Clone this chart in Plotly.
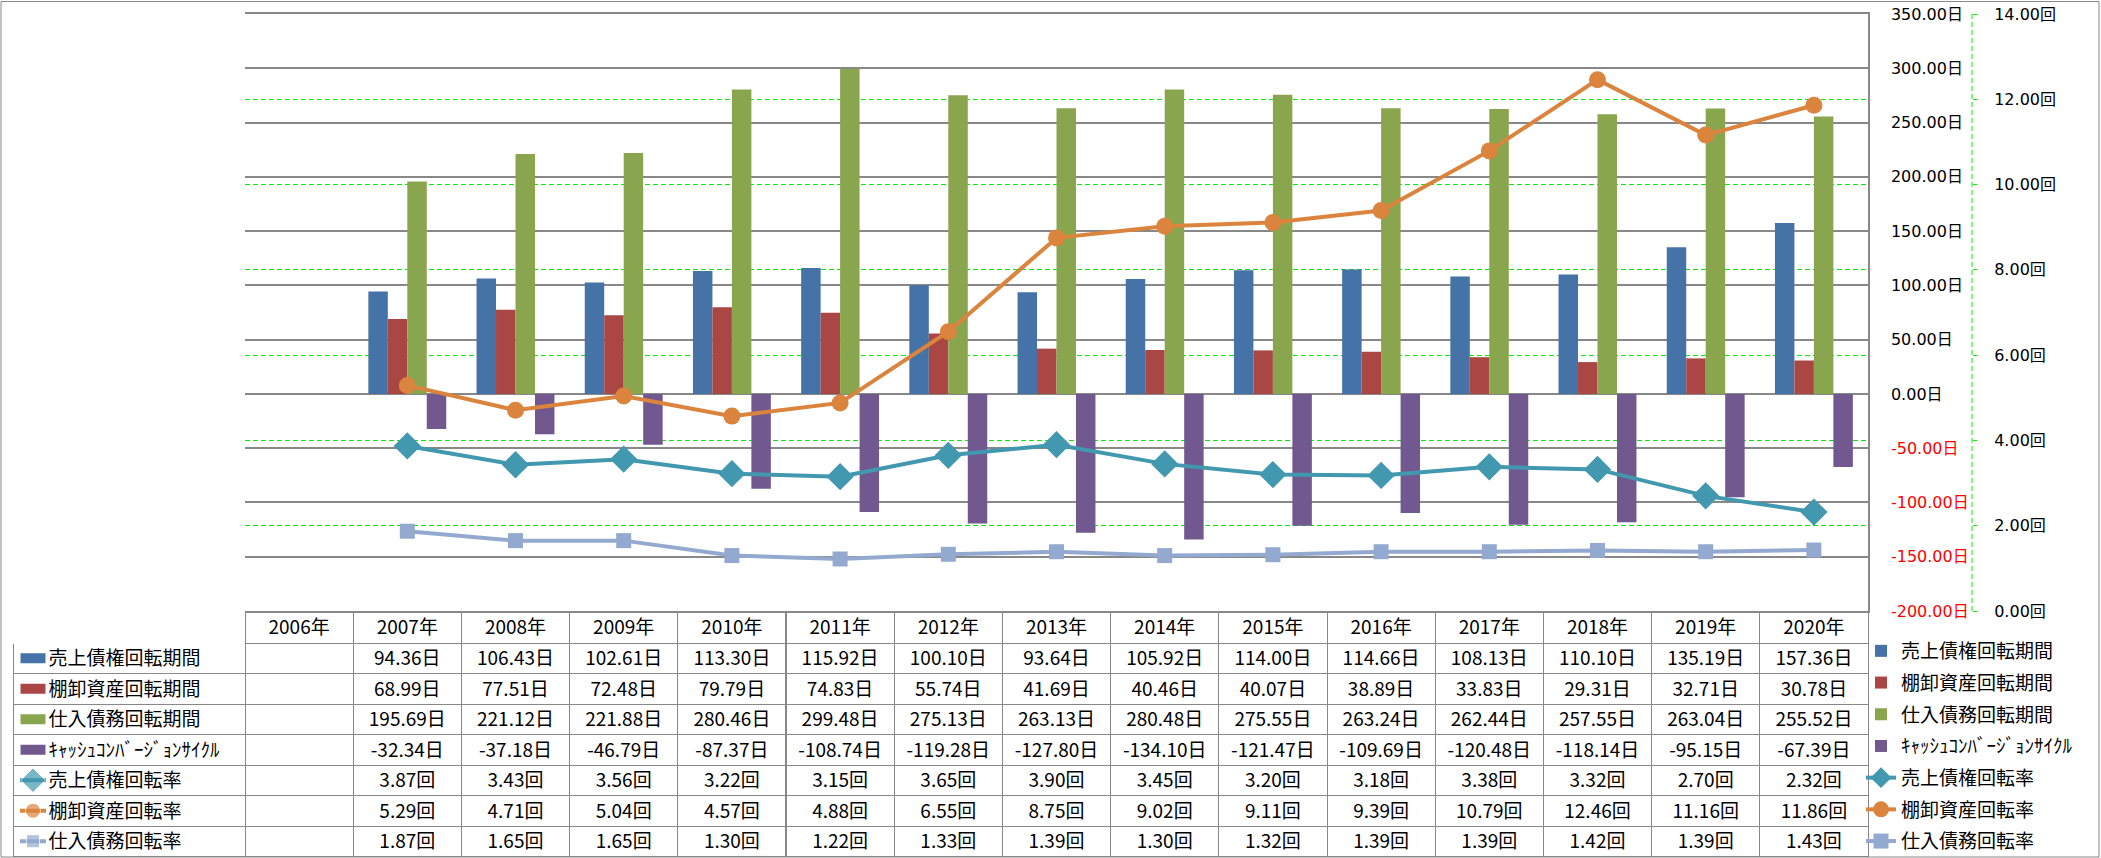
import plotly.graph_objects as go

# categories
years = ["2006年", "2007年", "2008年", "2009年", "2010年", "2011年", "2012年", "2013年",
         "2014年", "2015年", "2016年", "2017年", "2018年", "2019年", "2020年"]

# days (左軸)
ar_days = [None, 94.36, 106.43, 102.61, 113.30, 115.92, 100.10, 93.64, 105.92, 114.00, 114.66, 108.13, 110.10, 135.19, 157.36]
inv_days = [None, 68.99, 77.51, 72.48, 79.79, 74.83, 55.74, 41.69, 40.46, 40.07, 38.89, 33.83, 29.31, 32.71, 30.78]
ap_days = [None, 195.69, 221.12, 221.88, 280.46, 299.48, 275.13, 263.13, 280.48, 275.55, 263.24, 262.44, 257.55, 263.04, 255.52]
ccc_days = [None, -32.34, -37.18, -46.79, -87.37, -108.74, -119.28, -127.80, -134.10, -121.47, -109.69, -120.48, -118.14, -95.15, -67.39]

# turnover (右軸)
ar_turn = [None, 3.87, 3.43, 3.56, 3.22, 3.15, 3.65, 3.90, 3.45, 3.20, 3.18, 3.38, 3.32, 2.70, 2.32]
inv_turn = [None, 5.29, 4.71, 5.04, 4.57, 4.88, 6.55, 8.75, 9.02, 9.11, 9.39, 10.79, 12.46, 11.16, 11.86]
ap_turn = [None, 1.87, 1.65, 1.65, 1.30, 1.22, 1.33, 1.39, 1.30, 1.32, 1.39, 1.39, 1.42, 1.39, 1.43]

# axis ticks
days_ticks = [350, 300, 250, 200, 150, 100, 50, 0, -50, -100, -150, -200]
turn_ticks = [14, 12, 10, 8, 6, 4, 2, 0]

bar_series = [
    ("売上債権回転期間", ar_days, "#4572A7"),
    ("棚卸資産回転期間", inv_days, "#AA4643"),
    ("仕入債務回転期間", ap_days, "#89A54E"),
    ("ｷｬｯｼｭｺﾝﾊﾞｰｼﾞｮﾝｻｲｸﾙ", ccc_days, "#71588F"),
]
line_series = [
    ("売上債権回転率", ar_turn, "#4198AF", "diamond", 21),
    ("棚卸資産回転率", inv_turn, "#DB843D", "circle", 17),
    ("仕入債務回転率", ap_turn, "#93A9CF", "square", 15),
]

JP = "Noto Sans CJK JP"
AX = "DejaVu Sans, Noto Sans CJK JP"

W, H = 2101, 858
ML, MR, MT, MB = 13, 13, 14, 1
PW, PH = W - ML - MR, H - MT - MB


def px_x(x):
    return (x - ML) / PW


def px_y(y):
    return (H - MB - y) / PH


plot_left, plot_right = 245, 1868
plot_top, plot_bottom = 14, 611
table_top = 612
head_h, row_h = 31, 30.5

fig = go.Figure()

for i, (name, vals, color) in enumerate(bar_series):
    fig.add_trace(go.Bar(
        x=years, y=vals, name=name, marker_color=color, marker_line_width=0,
        legendgroup=f"g{i}", legendrank=i,
    ))

for j, (name, vals, color, symbol, size) in enumerate(line_series):
    fig.add_trace(go.Scatter(
        x=years, y=vals, name=name, yaxis="y2", mode="lines+markers",
        line=dict(color=color, width=4),
        marker=dict(symbol=symbol, size=size, color=color),
        legendgroup=f"h{j}", legendrank=10 + j,
    ))

# series keys drawn in the first column of the data table
for r, (name, _, color) in enumerate(bar_series):
    fig.add_trace(go.Scatter(
        x=[0.02, 0.98], y=[r, r], xaxis="x3", yaxis="y3", mode="lines",
        line=dict(color=color, width=10), showlegend=False, hoverinfo="skip",
    ))
for j, (name, _, color, symbol, size) in enumerate(line_series):
    r = len(bar_series) + j
    fig.add_trace(go.Scatter(
        x=[0, 0.5, 1], y=[r, r, r], xaxis="x3", yaxis="y3", mode="lines+markers",
        line=dict(color=color, width=4),
        marker=dict(symbol=symbol, size=[0, size - 2, 0], color=color),
        showlegend=False, hoverinfo="skip",
    ))

# data table below the plot
pad = "\u3000\u00a0\u00a0"
label_col = [pad + n for n, _, _ in bar_series] + [pad + n for n, _, _, _, _ in line_series]

columns = [label_col]
for k in range(len(years)):
    col = []
    for _, vals, _ in bar_series:
        col.append("" if vals[k] is None else f"{vals[k]:.2f}日")
    for _, vals, _, _, _ in line_series:
        col.append("" if vals[k] is None else f"{vals[k]:.2f}回")
    columns.append(col)

n_rows = len(label_col)
fig.add_trace(go.Table(
    domain=dict(x=[0, px_x(plot_right)], y=[0, px_y(table_top)]),
    columnwidth=[plot_left - ML] + [(plot_right - plot_left) / len(years)] * len(years),
    header=dict(
        values=[""] + years, height=head_h,
        line=dict(color=["white"] + ["#888888"] * len(years), width=1),
        fill_color="white", align="center",
        font=dict(family=JP, size=19, color="black"),
    ),
    cells=dict(
        values=columns, height=row_h,
        line=dict(color="#888888", width=1),
        fill_color=["rgba(0,0,0,0)"] + ["white"] * len(years),
        align=["left"] + ["center"] * len(years),
        font=dict(family=JP, size=19, color="black"),
    ),
))

days_text = [f'<span style="color:red">{v:.2f}日</span>' if v < 0 else f"{v:.2f}日" for v in days_ticks]
turn_text = [f"{v:.2f}回" for v in turn_ticks]

rows_top = table_top + head_h
fig.update_layout(
    width=W, height=H,
    margin=dict(l=ML, r=MR, t=MT, b=MB, autoexpand=False),
    paper_bgcolor="white", plot_bgcolor="white",
    barmode="group", bargap=0.28, bargroupgap=0,
    xaxis=dict(domain=[px_x(plot_left), px_x(plot_right)], range=[-0.5, len(years) - 0.5],
               showticklabels=False, showgrid=False, zeroline=False, ticks="",
               showline=True, mirror=True, linecolor="#888888", linewidth=1.5),
    yaxis=dict(domain=[px_y(plot_bottom), px_y(plot_top)], range=[-200, 350], side="right",
               tickvals=days_ticks, ticktext=days_text, showgrid=True,
               gridcolor="#888888", gridwidth=1.5, zeroline=False, showline=True,
               linecolor="#888888", linewidth=1.5, ticks="", ticklabelstandoff=18,
               tickfont=dict(family=AX, size=16, color="black")),
    yaxis2=dict(overlaying="y", anchor="free", position=px_x(1972), side="right",
                range=[0, 14], tickvals=turn_ticks, ticktext=turn_text,
                showgrid=True, gridcolor="#00EE00", gridwidth=1, griddash="5px,3px",
                zeroline=False, showline=False, ticks="outside", ticklen=4,
                tickcolor="#00EE00", ticklabelstandoff=14,
                tickfont=dict(family=AX, size=16, color="black")),
    xaxis3=dict(domain=[px_x(20), px_x(46)], range=[0, 1], anchor="y3", visible=False),
    yaxis3=dict(domain=[px_y(rows_top + n_rows * row_h), px_y(rows_top)],
                range=[n_rows - 0.5, -0.5], anchor="x3", visible=False),
    legend=dict(x=px_x(1861), y=px_y(632), xanchor="left", yanchor="top",
                orientation="v", traceorder="grouped", tracegroupgap=4,
                font=dict(family=JP, size=19, color="black"), itemwidth=30,
                bgcolor="rgba(0,0,0,0)"),
    shapes=[
        dict(type="line", xref="paper", yref="paper", x0=px_x(1972), x1=px_x(1972),
             y0=px_y(plot_bottom), y1=px_y(plot_top),
             line=dict(color="#00EE00", width=1, dash="5px,3px")),
        dict(type="rect", xref="paper", yref="paper", x0=px_x(1), x1=px_x(2099),
             y0=px_y(857), y1=px_y(1.5), line=dict(color="#888888", width=1)),
    ],
)

fig.write_html("out.html", config={"displayModeBar": False},
               post_script="document.body.style.margin='0';")
